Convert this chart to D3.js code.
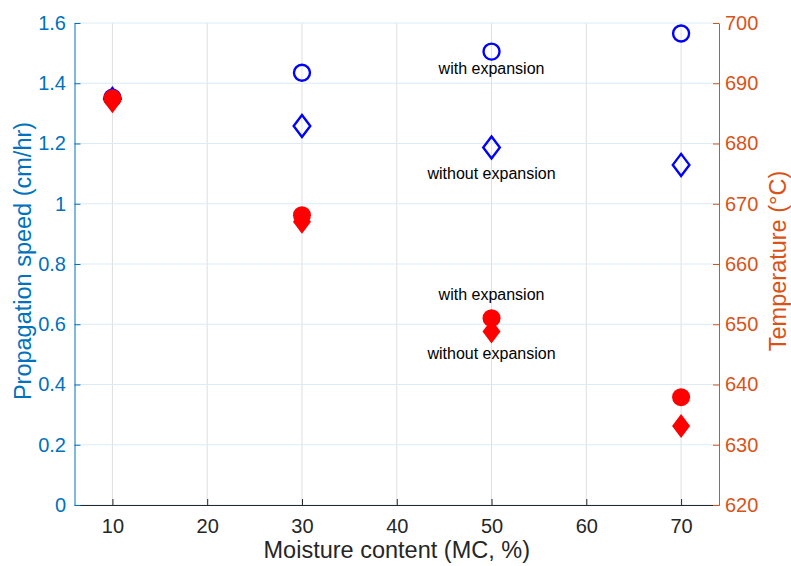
<!DOCTYPE html>
<html>
<head>
<meta charset="utf-8">
<script src="https://cdn.jsdelivr.net/npm/d3@7"></script>
<style>
  body { margin: 0; background: #fff; }
  text { font-family: "Liberation Sans", Arial, sans-serif; }
</style>
</head>
<body>
<div id="chart"></div>
<script>
// moisture content (MC, %)
const moisture = [10, 30, 50, 70];
// propagation speed (cm/hr), left axis
const speedWith = [1.352, 1.435, 1.505, 1.565];
const speedWithout = [1.348, 1.258, 1.187, 1.129];
// temperature (°C), right axis
const tempWith = [687.5, 668.1, 651.0, 637.9];
const tempWithout = [687.0, 667.0, 648.8, 633.1];

const xTicks = [10, 20, 30, 40, 50, 60, 70];
const leftTicks = [0, 0.2, 0.4, 0.6, 0.8, 1, 1.2, 1.4, 1.6];
const rightTicks = [620, 630, 640, 650, 660, 670, 680, 690, 700];

// annotations: [x, left-axis value (baseline), text]
const notes = [
  [50, 1.432, 'with expansion'],
  [50, 1.081, 'without expansion'],
  [50, 0.68, 'with expansion'],
  [50, 0.484, 'without expansion']
];

const W = 791, H = 566;
const margin = { top: 23, right: 72, bottom: 61, left: 74.5 };
const width = W - margin.left - margin.right;
const height = H - margin.top - margin.bottom;

const blueAxis = '#0072BD', orangeAxis = '#D95319', darkAxis = '#262626';

const svg = d3.select('#chart').append('svg')
  .attr('width', W).attr('height', H);

const chart = svg.append('g')
  .attr('transform', `translate(${margin.left}, ${margin.top})`);

const x = d3.scaleLinear().domain([6, 74]).range([0, width]);
const yL = d3.scaleLinear().domain([0, 1.6]).range([height, 0]);
const yR = d3.scaleLinear().domain([620, 700]).range([height, 0]);

// Grid
chart.append('g').selectAll('line')
  .data(xTicks).join('line')
  .attr('x1', d => x(d)).attr('x2', d => x(d))
  .attr('y1', 0).attr('y2', height)
  .attr('stroke', '#dfdfdf').attr('stroke-width', 1);

chart.append('g').selectAll('line')
  .data(leftTicks).join('line')
  .attr('x1', 0).attr('x2', width)
  .attr('y1', d => yL(d)).attr('y2', d => yL(d))
  .attr('stroke', '#dcebf6').attr('stroke-width', 1);

// Axes
const tickFont = '20px';

const xAxis = chart.append('g')
  .attr('transform', `translate(0, ${height})`)
  .call(d3.axisBottom(x).tickValues(xTicks).tickSizeInner(-6).tickSizeOuter(0).tickPadding(14));
xAxis.select('.domain').attr('stroke', darkAxis);
xAxis.selectAll('line').attr('stroke', darkAxis);
xAxis.selectAll('text').attr('fill', darkAxis).style('font-size', tickFont).attr('dy', '0.71em');

const yAxisL = chart.append('g')
  .call(d3.axisLeft(yL).tickValues(leftTicks).tickFormat(d3.format('~g')).tickSizeInner(-6).tickSizeOuter(0).tickPadding(8.5));
yAxisL.select('.domain').attr('stroke', blueAxis);
yAxisL.selectAll('line').attr('stroke', blueAxis);
yAxisL.selectAll('text').attr('fill', blueAxis).style('font-size', tickFont);

const yAxisR = chart.append('g')
  .attr('transform', `translate(${width}, 0)`)
  .call(d3.axisRight(yR).tickValues(rightTicks).tickSizeInner(-6).tickSizeOuter(0).tickPadding(6));
yAxisR.select('.domain').attr('stroke', orangeAxis);
yAxisR.selectAll('line').attr('stroke', orangeAxis);
yAxisR.selectAll('text').attr('fill', orangeAxis).style('font-size', tickFont);

// Axis titles
const titleFont = '23.5px';

svg.append('text')
  .attr('x', margin.left + x(40)).attr('y', 558)
  .attr('text-anchor', 'middle')
  .attr('fill', darkAxis).style('font-size', titleFont)
  .text('Moisture content (MC, %)');

svg.append('text')
  .attr('transform', `translate(31, ${margin.top + height / 2 - 3}) rotate(-90)`)
  .attr('text-anchor', 'middle')
  .attr('fill', blueAxis).style('font-size', titleFont)
  .text('Propagation speed (cm/hr)');

svg.append('text')
  .attr('transform', `translate(786, ${margin.top + height / 2 - 3}) rotate(-90)`)
  .attr('text-anchor', 'middle')
  .attr('fill', orangeAxis).style('font-size', titleFont)
  .text('Temperature (°C)');

// Markers
const diamond = (hw, hh) => `M0,${-hh}L${hw},0L0,${hh}L${-hw},0Z`;

const speedData = moisture.map((m, i) => ({ m, w: speedWith[i], wo: speedWithout[i] }));
const tempData = moisture.map((m, i) => ({ m, w: tempWith[i], wo: tempWithout[i] }));

chart.append('g').selectAll('circle')
  .data(speedData).join('circle')
  .attr('cx', d => x(d.m)).attr('cy', d => yL(d.w))
  .attr('r', 8)
  .attr('fill', 'none').attr('stroke', '#0000FF').attr('stroke-width', 2.4);

chart.append('g').selectAll('path')
  .data(speedData).join('path')
  .attr('transform', d => `translate(${x(d.m)}, ${yL(d.wo)})`)
  .attr('d', diamond(8.3, 11))
  .attr('fill', 'none').attr('stroke', '#0000FF').attr('stroke-width', 2.4);

chart.append('g').selectAll('path')
  .data(tempData).join('path')
  .attr('transform', d => `translate(${x(d.m)}, ${yR(d.wo)})`)
  .attr('d', diamond(9, 12))
  .attr('fill', '#FF0000');

chart.append('g').selectAll('circle')
  .data(tempData).join('circle')
  .attr('cx', d => x(d.m)).attr('cy', d => yR(d.w))
  .attr('r', 9)
  .attr('fill', '#FF0000');

// Annotations
chart.append('g').selectAll('text')
  .data(notes).join('text')
  .attr('x', d => x(d[0])).attr('y', d => yL(d[1]))
  .attr('text-anchor', 'middle')
  .attr('fill', '#000').style('font-size', '16px')
  .text(d => d[2]);
</script>
</body>
</html>
